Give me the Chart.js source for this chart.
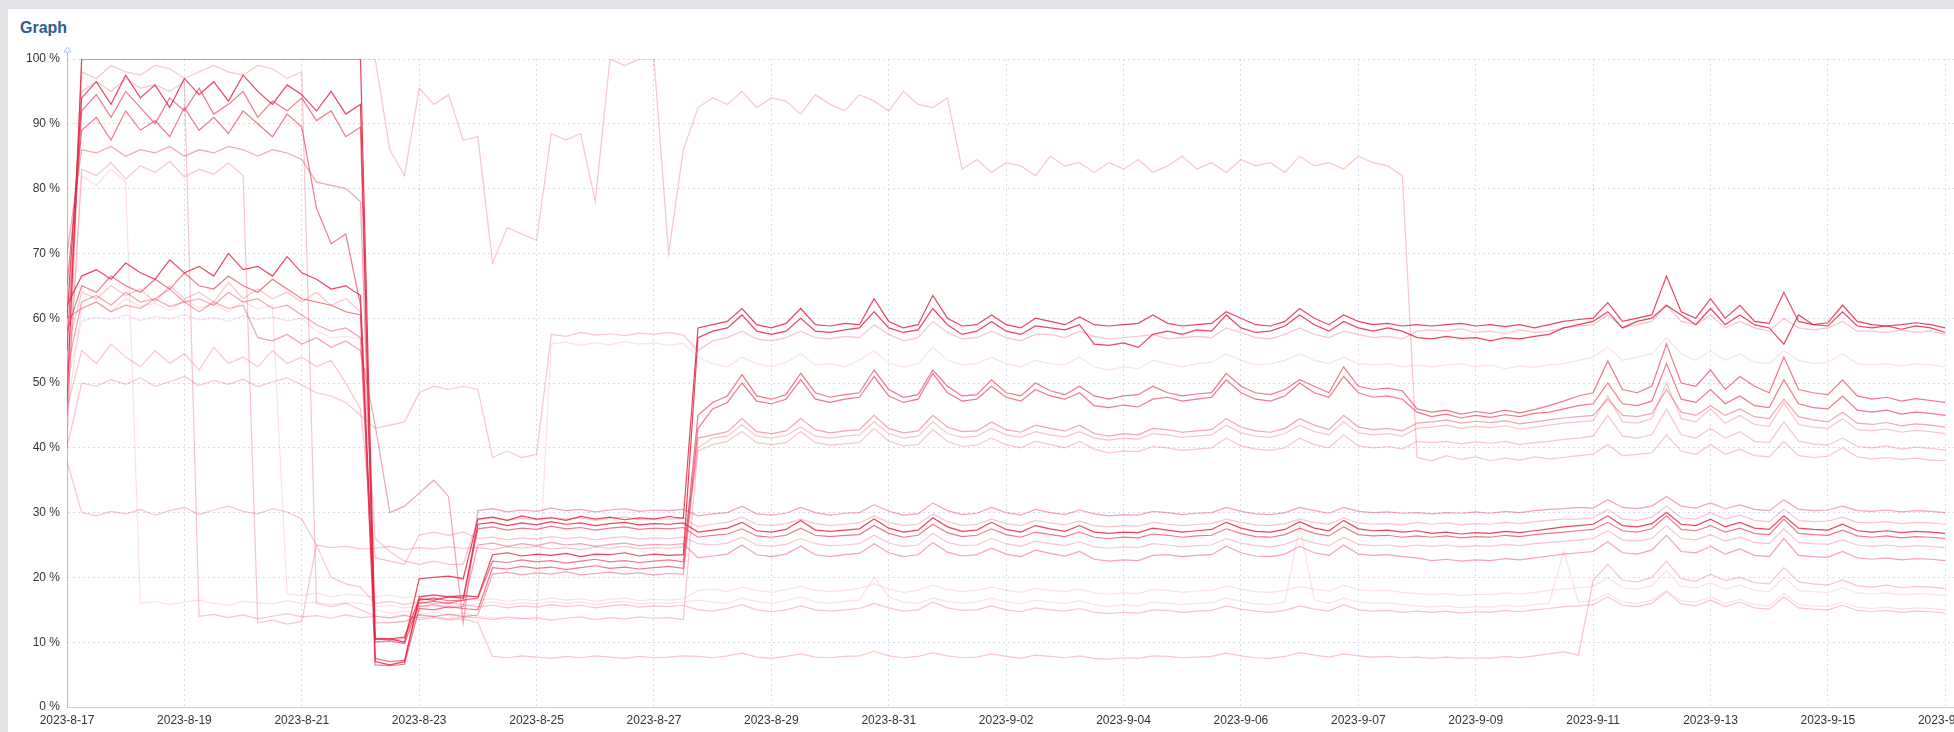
<!DOCTYPE html>
<html>
<head>
<meta charset="utf-8">
<script src="https://cdn.jsdelivr.net/npm/chart.js@4.4.0/dist/chart.umd.min.js"></script>
<style>
  html, body { margin: 0; padding: 0; overflow: hidden; width: 1954px; height: 732px; background: #e1e3e7; }
  .panel { position: absolute; left: 8px; top: 8px; width: 2100px; height: 740px; background: #fff; border-top: 1px solid #e2dcef; }
  .title { position: absolute; left: 20px; top: 20px; font: bold 16px Arial, "Liberation Sans", sans-serif; line-height: 16px; color: #2b5e8c; }
  .wrap { position: absolute; left: 0; top: 0; width: 2010px; height: 732px; }
</style>
</head>
<body>
<div class="panel"></div>
<div class="title">Graph</div>
<div class="wrap"><canvas id="graph" width="2010" height="732"></canvas></div>
<script>
// --- tick labels ---
const xTickLabels = ['2023-8-17', '2023-8-19', '2023-8-21', '2023-8-23', '2023-8-25', '2023-8-27',
  '2023-8-29', '2023-8-31', '2023-9-02', '2023-9-04', '2023-9-06', '2023-9-07', '2023-9-09',
  '2023-9-11', '2023-9-13', '2023-9-15', '2023-9-17'];
const yTickLabels = ['0 %', '10 %', '20 %', '30 %', '40 %', '50 %', '60 %', '70 %', '80 %', '90 %', '100 %'];

// samples every 6 hours, counted in days from 2023-8-17 00:00
const days = Array.from({ length: 129 }, (_, i) => i / 4);

// --- series values (%) ---
const s01 = [47,100,100,100,100,100,100,100,100,100,100,100,100,100,100,100,100,100,100,100,100,
  10.5,10.5,10,19.8,20,20.2,19.8,
  29,29.3,28.8,29.5,29,29.2,28.8,29.4,29,29.3,28.9,29.2,29,29.4,29.1,
  58.5,59,59.5,61.5,59,58.5,59.2,61.5,59,58.8, 59.2,59,63,59.5,58.5,59,63.5,60,58.8,59,
  60.5,59,58.5,60,59.5,59,60.2,59,58.8,59, 59.2,60.5,59.2,58.8,59,59.2,61,60,59,58.8,
  59.5,61.5,60,59,60.5,59.5,59,59.2,58.8,59, 58.8,59,59.2,58.8,59,58.7,59,58.5,59,59.5,
  59.8,60,62.4,59.5,60,60.5,66.5,61,60,63, 60,62,59.5,59.2,64,59.5,59,59.3,62,59.5,
  59,58.8,59,59.3,59,58.5];
const s02 = [60,94,96.5,93,97.5,94,96,92.5,97,94.5,96.5,93.5,97.5,95,93,96,94.5,92,95,91.5,93,
  7,6.5,7,17,17.3,17,17.2,
  17,23.5,23.8,23.3,23.6,23.4,23.7,23.2,23.6,23.5,23.8,23.3,23.6,23.4,23.5,
  57,58,58.5,60.5,58,57.5,58,60,58,57.8, 58.2,58.5,61,58.5,57.8,58.2,61.5,59,57.5,58,
  59.5,58,57.5,58.8,58.5,58.2,59,56,55.8,56.2, 55.5,57.5,58,57.5,58.2,58,60.5,58.5,57.8,58,
  58.8,60.5,59,58,59.5,58.5,58,58.5,58,57, 56.8,57.2,56.9,57,56.5,57,56.8,57.2,57.5,58.5,
  59,59.5,61,58.5,59.5,60,62,60.5,59,61.5, 59,60.5,59,58.5,56,60.5,59,58.8,61,58.8,
  58.5,58.8,58.3,58.8,58.5,57.8];
const s03 = [55,92,94.5,91,95,92.5,90,94,92,95.5,91.5,93,95,91,93.5,92,94,90.5,92,88,89.5,
  7.5,7,7.2,16.5,16.8,16.4,16.5,
  16.8,22.5,22.3,22.7,22.4,22.6,22.2,22.5,22.8,22.4,22.6,22.3,22.5,22.7,22.4,
  45,47,48,51.3,48,47.5,48.2,51.5,48.5,47.8, 48.2,48.5,52,49,47.8,48.2,52,49.5,48,48.2,
  50.5,48.5,48,50,48.8,48.2,49.5,48,47.5,48, 48.2,49.5,48.5,48,48.3,48.5,51.5,49.5,48.5,48.2,
  49,50.5,49.5,48.5,52.5,49.5,49,49.2,48.8,46, 45.5,45.8,45.2,45.6,45.3,45.8,45.4,45.9,46.5,47.2,
  48,48.5,53.4,49,48.5,49.5,56,50,49.5,52, 49,51,49.5,48.5,54,49,48.5,48.2,50.5,48,
  47.5,47.8,47.2,47.6,47.3,47];
const s04 = [65,89,91,87.5,92,89,90.5,88,92.5,89,91,88.5,92,90,88,91.5,89.5,77,71.5,73,62,
  6.5,6.4,6.6,15.2,15,15.5,15.2,
  15,21.5,21.3,21.7,21.4,21.6,21.2,21.5,21.8,21.4,21.6,21.3,21.5,21.7,21.4,
  43,46,47,50,47.2,46.8,47.5,50.5,47.5,47, 47.5,47.8,51,48,47,47.5,51.5,48.5,47.2,47.5,
  49.5,47.8,47.2,49,48,47.5,48.5,46.5,46.2,46.6, 46.3,47.5,47.8,47.2,47.5,47.8,50.5,48.5,47.5,47.2,
  48,50,48.5,47.8,51,48.5,47.8,48,47.5,45.5, 44.8,45.2,44.6,45,44.7,45.1,44.8,45.3,45.5,46,
  46.5,46.8,50,46.8,46.5,47.2,53,47.5,47,49, 46.8,48,46.5,46.2,50.5,46.8,46.2,46,48,45.8,
  45.5,45.8,45.2,45.5,45.3,45];
const s05 = [70,86,85.5,86.5,85,86,85.5,86.5,85,86,85.5,86.5,86,85,86,85.5,84.5,81,80.5,80,78,
  13,13,13.2,14.2,14,14.3,14,
  14.2,20.5,20.8,20.4,20.7,20.5,20.9,20.4,20.6,20.8,20.5,20.7,20.4,20.6,20.5,
  41.5,42,42.5,44.5,42.5,42.2,42.6,44.5,42.8,42.3, 42.6,42.8,45,43,42.3,42.6,45,43.2,42.5,42.6,
  44,42.8,42.4,43.5,43,42.6,43.5,42.2,41.8,42.2, 42,43,42.8,42.4,42.6,42.8,44.5,43.2,42.6,42.4,
  43,44.5,43.5,42.8,45,43.2,42.8,43,42.6,43.8, 44,44.3,43.8,44.1,43.9,44.2,43.7,44,44.3,44.6,
  44.8,45,47.5,45,44.8,45.3,49,45.5,45,46.5, 45,46,44.8,44.5,47.5,44.8,44.3,44,45.5,43.8,
  43.6,43.9,43.4,43.7,43.5,43.2];
const s06 = [62,66.5,67.5,66,68.5,67,66,69,67,68,66.5,70,67.5,68,66.5,69.5,67,66,64.5,65,63.5,
  10.5,10.5,10.8,16.7,16.5,17,16.8,
  28.2,28.5,28,28.4,28.1,28.6,28.2,28.4,28,28.3,28.5,28.1,28.3,28.2,28.4,
  27,27.3,27.6,28.5,27.2,27,27.4,28.8,27.3,27.1, 27.3,27.5,29,27.6,27,27.3,29.2,27.8,27.1,27.3,
  28.5,27.4,27,28,27.5,27.1,28,27,26.8,27, 26.9,27.6,27.3,27,27.2,27.4,28.5,27.6,27.1,27,
  27.4,28.6,27.6,27.2,28.8,27.5,27.2,27.3,27,27.2, 26.8,27,26.7,26.9,26.8,27.1,26.9,27.2,27.5,27.8,
  28,28.2,29.5,28,27.8,28.3,30,28.2,28,29, 27.8,28.5,27.6,27.4,29.5,27.6,27.4,27.3,28.2,27.2,
  27,27.2,26.9,27.1,27,26.8];
const s07 = [58,65,64,66.5,65,64,66,64.5,67,65,64.5,66.5,65,64,66,64.5,63,62.5,62,61,60.5,
  10,10.2,9.8,16,16.3,16,16.5,
  27.5,27.8,27.3,27.6,27.4,27.9,27.5,27.7,27.3,27.6,27.8,27.4,27.6,27.5,27.7,
  26.2,26.5,26.7,27.5,26.4,26.2,26.5,27.6,26.5,26.3, 26.5,26.6,28,26.8,26.2,26.5,28.2,26.9,26.3,26.5,
  27.5,26.6,26.2,27,26.6,26.3,27,26.2,26,26.2, 26.1,26.7,26.5,26.2,26.4,26.5,27.5,26.8,26.3,26.2,
  26.6,27.6,26.8,26.4,27.8,26.6,26.4,26.5,26.2,26.4, 26.2,26.4,26.1,26.3,26.2,26.5,26.3,26.6,26.8,27,
  27.2,27.4,28.5,27.2,27,27.5,29.5,27.4,27.2,28, 27,27.6,26.8,26.6,29,26.8,26.6,26.5,27.3,26.4,
  26.2,26.4,26.1,26.3,26.2,26];
const s08 = [52,62.5,63.5,62,64,62.5,63,64.5,62.5,63,62,64,62.5,63,61.5,62,60.5,59,58,58.5,57,
  10.5,10.3,10.6,15.5,15.8,15.3,15.5,
  25,25.3,24.8,25.2,24.9,25.4,25,25.2,24.8,25.1,25.3,24.9,25.1,25,25.2,
  23,23.3,23.6,25,23.5,23.2,23.6,24.8,23.5,23.2, 23.5,23.7,25.2,23.8,23.2,23.5,25.4,23.9,23.3,23.5,
  24.5,23.6,23.2,24.2,23.7,23.3,24,22.8,22.5,22.7, 22.6,23.4,23.5,23.2,23.4,23.5,24.8,23.8,23.3,23.2,
  23.6,24.8,23.8,23.4,25,23.6,23.4,23.5,23.2,23, 22.6,22.8,22.5,22.7,22.6,22.9,22.7,23,23.3,23.6,
  23.8,24,25.5,23.8,23.6,24.2,26.5,24,23.8,24.8, 23.6,24.4,23.4,23.2,26,23.4,23.2,23.1,24,23,
  22.8,23,22.7,22.9,22.8,22.6];
const s09 = [60,61.5,62.5,61,62,61.5,63,61.8,62.5,61,62.5,61.5,62,57,56.5,57.5,56,57,55.5,56.5,55,
  43.5,30,31,33,35,32.5,13,
  30.3,30.6,30.1,30.4,30.2,30.7,30.3,30.5,30.1,30.4,30.6,30.2,30.4,30.3,30.5,
  29.5,29.8,30,31,29.8,29.6,29.9,30.8,30,29.6, 29.9,30,31.2,30.2,29.6,29.8,31.5,30.3,29.7,29.9,
  30.8,30,29.6,30.5,30,29.7,30.4,29.8,29.5,29.7, 29.6,30.2,30,29.7,29.9,30,30.8,30.2,29.8,29.7,
  30,30.8,30.3,29.9,30.8,30.2,30,30.1,29.9,30, 29.8,30,29.9,30.1,29.9,30.2,30,30.3,30.5,30.6,
  30.8,30.7,32,30.8,30.6,31,32.5,31,30.7,31.5, 30.6,31.2,30.5,30.3,32,30.5,30.3,30.4,31,30.3,
  30.2,30.4,30.1,30.3,30.2,30];
const s10 = [55,64,63,65,63.5,64.5,62.5,65,63,64,62.5,65.5,63,64.5,63,64,62.5,64,62,63,61,
  26,24,22.5,22,22.5,22,22,
  29,29.2,28.8,29.1,28.9,29.3,29,29.2,28.8,29.1,29.3,28.9,29.1,29,29.2,
  27.8,28.2,28.5,29.3,28.2,28,28.3,29,28.3,28, 28.2,28.4,29.5,28.5,28,28.2,29.8,28.6,28,28.2,
  29,28.3,28,28.8,28.4,28.1,28.7,28,27.8,28, 27.9,28.5,28.2,28,28.2,28.3,29,28.5,28.1,28,
  28.3,29,28.5,28.2,29.2,28.4,28.2,28.3,28.1,28.5, 28.2,28.4,28.1,28.3,28.2,28.5,28.3,28.6,28.8,29,
  29,29.2,30.5,29,28.8,29.3,31,29.2,29,30, 29,29.6,28.8,28.6,30.5,28.8,28.6,28.7,29.3,28.5,
  28.4,28.6,28.3,28.5,28.4,28.2];
const s11 = [46,55,53,56,54,52.5,55,53,54.5,52,55.5,53,54,52.5,55,53,54,52.5,53.5,50,46,
  23,22.5,22,26.5,27,26.5,27,
  26,26.2,25.8,26.1,25.9,26.3,26,26.2,25.8,26.1,26.3,25.9,26.1,26,26.2,
  25.2,25,25.3,26.2,25,24.8,25.1,26,25.2,24.9, 25,25.2,26.5,25.3,24.8,25,26.8,25.4,24.9,25,
  26,25.2,24.8,25.6,25.2,24.9,25.5,24.7,24.5,24.7, 24.6,25.2,25,24.7,24.9,25,26,25.3,24.9,24.7,
  25.1,26,25.3,24.9,26.2,25.1,24.9,25,24.7,25, 24.8,25,24.7,24.9,24.8,25.1,24.9,25.2,25.4,25.6,
  25.8,26,27.2,25.8,25.6,26,28,26,25.8,26.6, 25.6,26.2,25.4,25.2,27.5,25.4,25.2,25.1,25.8,25,
  24.8,25,24.7,24.9,24.8,24.6];
const s12 = [40,50,49.5,50.5,49.8,50.8,49.5,50.2,51,49.6,50.4,49.8,50.6,49.4,50.2,50.8,49.7,48.5,48,47,45,
  43,43.5,44,48.5,49.5,49,49.5,
  49,38.5,39.5,38.5,39,57.5,57.2,57.8,57.4,57.6,57.3,57.7,57.5,57.8,57.4,
  55,56.5,57,58,56.8,56.5,57,58,57,56.8, 57.2,57,59,57.5,56.5,57,59.5,57.8,56.8,57,
  58,57,56.5,57.5,57.5,57,58,57.2,56.8,57, 57.2,57.5,56.8,57,57.2,57,58.5,57.8,57,56.8,
  57.5,58.5,57.5,57,58,57.5,57,57.2,56.8,58, 58.2,58,58.4,57.8,58,57.6,58.2,57.8,58,58.5,
  58.8,59,60.5,58.5,59,59.5,62,59.5,59,60.5, 58.5,59.5,58.5,58,60,58.5,58.2,58.5,59.5,58,
  58,57.8,58.2,57.8,58,57.5];
const s13 = [50,59.5,60.2,59.8,60.5,59.6,60.3,59.9,60.6,59.7,60.1,59.5,60.4,59.8,60.2,59.6,60,58,57,57.2,56.8,
  15,14.5,14.8,14.3,14.6,14.2,14.5,
  14,13.8,13.5,13.7,13.4,56,56.3,55.8,56.2,55.9,56.4,56,56.2,55.8,56.1,
  54,53,52.5,54,53,52.5,53.2,54.5,52.8,53, 52.5,53.5,55,53,52.5,53,55.5,53.5,52.8,53,
  54,53,52.5,53.5,53,52.8,54,52.5,52,52.5, 52.2,53.5,53,52.5,53,53.2,54.5,53.5,52.8,53,
  53.5,54.5,53.5,53,54,53,52.8,53,52.5,52.8, 52.5,52.8,53,52.5,52.8,52.2,52.6,52.4,52.8,53,
  53.5,54,55.5,53.5,54,54.5,57,54.5,53.5,55, 53.5,54.5,53.2,53,55,53.5,53,53.2,54.5,53,
  52.8,53,52.6,53,52.8,52.5];
const s14 = [40,100,100,100,100,100,100,100,100,100,100,100,100,100,100,100,100,100,100,100,100,
  100,86,82,95.5,93,94.5,87.5,
  88,68.5,74,73,72,88.5,87.5,88.5,78,100,99,100,100,70,86,
  92.5,94,93,95,92.5,94,93.5,91.5,94.5,93, 92,94.5,93.5,92,95,93,92.5,94,
  83,84.5,82.5,84,83.5,82,85,83.5,84,82.5, 84,83,84.5,82.5,83.5,85,83,84,82.5,84.5,
  83.5,84,82.5,85,83.5,84,83,85,84,83.5,82,
  38.5,38,38.8,38.2,38.6,38,38.4,38.1,38.6,38.3, 38.5,38.8,39,40.5,38.8,39,39.2,42,39.5,39,
  40.5,39,39.8,38.8,38.6,41,38.8,38.5,38.7,40, 38.6,38.3,38.5,38.2,38.4,38.1,38];
const s15 = [45,83,82,84,81.5,83.5,82.5,84.2,81.8,83,82.2,84,82,13,13.4,12.8,13.2,25,24.6,24.8,24.4,
  24.5,24.8,24.3,24.6,24.4,24.7,24.5,
  24.6,24.3,24.7,24.5,24.8,24.4,24.6,24.3,24.7,24.5,24.8,24.4,24.6,24.5,24.7,
  39.5,40.5,41,42.5,40.8,40.5,40.8,42.5,40.8,40.4, 40.6,40.8,43,41,40.3,40.5,42.8,41,40.2,40.4,
  41.5,40.5,40,41,40.5,40,41,39.8,39.2,39.5, 39.4,40.2,40,39.6,39.8,40,41.5,40.3,39.8,39.6,
  40,41.5,40.5,40,42,40.3,40,40.2,39.8,41, 40.8,41,40.6,40.9,40.7,41,40.5,40.8,41,41.3,
  41.5,41.8,45,41.8,41.5,42,46,42,41.5,43, 41.5,42.5,41,40.8,44,41,40.6,40.4,41.5,40.2,
  40,40.3,39.8,40.1,39.9,39.6];
const s16 = [45,82,80.5,83,81,16,16.3,15.8,16.2,16.5,16,15.7,16.3,16.1,15.9,16.4,16,16.2,15.8,16.1,16,
  15.5,15.7,15.3,15.6,15.4,15.8,15.5,
  16,16.2,15.8,16.1,15.9,16.3,16,16.2,15.8,16.1,16.3,15.9,16.1,16,16.2,
  16.5,16.2,16,16.8,16.3,16,16.4,17,16.2,16, 16.3,16.5,20,17,16.2,16,16.8,16.3,16,16.2,
  16.8,16.2,15.9,16.5,16.2,16,16.4,15.8,15.5,15.8, 15.6,16.2,16,15.8,16,16.1,16.8,16.3,15.9,15.8,
  16.2,28,16.5,16,16.8,16.2,16,16.1,15.8,15.6, 15.4,15.6,15.3,15.5,15.4,15.7,15.5,15.8,16,24,
  16.2,16.4,17.5,16.2,16,16.5,18,16.4,16.2,17, 16,16.6,15.8,15.6,17.5,15.8,15.6,15.5,16.2,15.4,
  15.2,15.4,15.1,15.3,15.2,15];
const s17 = [55,98,97,99,98,97.5,99,98.5,97,98,99,98,97.5,99,98.5,97,98,16,15.5,16,15,
  14,13.8,14.2,13.5,13.8,13.4,13.6,
  13,7.8,7.6,7.9,7.7,7.5,7.8,7.6,7.9,7.7,7.5,7.8,7.6,7.7,7.9,
  7.8,7.6,7.9,8.3,7.7,7.5,7.8,8.2,7.7,7.6, 7.8,7.9,8.6,7.9,7.6,7.8,8.4,7.9,7.6,7.7,
  8.2,7.8,7.5,8,7.8,7.6,7.9,7.5,7.4,7.6, 7.5,7.9,7.8,7.6,7.7,7.8,8.3,7.9,7.6,7.5,
  7.8,8.4,8,7.7,8.2,7.9,7.7,7.8,7.6,7.7, 7.5,7.7,7.5,7.6,7.5,7.8,7.6,7.9,8.2,8.5,
  8,19.5,22,19.6,19.3,20,22.5,19.8,19.4,20.5, 19.5,20,19.2,19,21.5,19.3,19,18.8,19.6,18.7,
  18.5,18.8,18.4,18.6,18.5,18.3];
const s18 = [38,30,29.5,30.2,29.8,30.5,29.6,30.3,30.8,29.7,30.4,31,30.2,29.8,30.6,30.1,29,25,20,19,18.5,
  16,16.3,15.8,16.2,15.9,16.1,15.8,
  15.5,15.7,15.3,15.6,15.4,15.8,15.5,15.7,15.3,15.6,15.8,15.4,15.6,15.5,15.7,
  15,14.8,15.2,15.8,15,14.7,15,15.6,15,14.8, 15,15.2,16,15.3,14.8,15,16.2,15.3,14.9,15,
  15.6,15,14.7,15.3,15,14.8,15.2,14.6,14.4,14.6, 14.5,15,14.9,14.6,14.8,14.9,15.6,15.1,14.8,14.6,
  14.9,15.6,15.1,14.8,15.8,15,14.8,14.9,14.6,14.8, 14.6,14.8,14.5,14.7,14.6,14.9,14.7,15,15.2,15.5,
  15.6,15.8,17,15.7,15.5,16,17.8,15.9,15.6,16.5, 15.5,16.2,15.3,15.1,17,15.3,15.1,15,15.7,14.9,
  14.7,14.9,14.6,14.8,14.7,14.5];
const s19 = [50,95,96.5,95,97,95.5,96,95,96.5,14,14.3,13.8,14.2,13.6,14,14.4,13.9,14.1,13.7,14.2,13.8,
  14,13.7,14.1,13.8,14,13.6,13.9,
  13.8,13.5,13.9,13.6,13.8,13.4,13.7,13.9,13.5,13.8,13.6,13.9,13.7,13.8,13.5,
  40,41.5,41.8,43.5,41.8,41.5,41.9,43.2,41.8,41.5, 41.8,42,44,42.2,41.5,41.8,44,42.2,41.6,41.8,
  43,42,41.6,42.5,42,41.7,42.5,41.5,41.2,41.5, 41.3,42.2,42,41.6,41.8,42,43.5,42.3,41.8,41.6,
  42.2,43.5,42.5,42,44,42.3,42,42.2,41.8,43, 43.2,43.5,43,43.3,43.1,43.4,42.9,43.2,43.5,43.8,
  44,44.2,48,44,43.8,44.5,50,44.5,44,46, 43.8,45,43.6,43.3,47,43.6,43.2,43,44.5,42.8,
  42.6,42.9,42.4,42.7,42.5,42.2];
const s20 = [45,61.5,62.5,61,63,61.8,62.3,61.2,62.8,61.6,62.2,61,62.6,61.4,62,17.5,17.2,17.6,17,17.4,17.2,
  17,17.3,16.8,17.1,16.9,17.2,17,
  16.5,16.7,16.3,16.6,16.4,16.8,16.5,16.7,16.3,16.6,16.8,16.4,16.6,16.5,16.7,
  18,18.2,17.8,18.5,18,17.7,18.1,18.6,18,17.8, 18,18.3,19,18.2,17.7,18,18.8,18.1,17.8,18,
  18.5,18,17.7,18.3,18,17.8,18.2,17.6,17.4,17.6, 17.5,18.1,18,17.7,17.9,18,18.7,18.2,17.8,17.7,
  18,18.6,18.2,17.9,18.8,18.1,17.9,18,17.7,17.5, 17.3,17.5,17.2,17.4,17.3,17.6,17.4,17.7,18,18.2,
  18.4,18.6,20,18.4,18.2,18.7,21,18.6,18.4,19.2, 18.2,18.8,18,17.8,20,18,17.8,17.7,18.4,17.6,
  17.4,17.6,17.3,17.5,17.4,17.2];

// --- shades of the red used by the series (dark ones drawn on top) ---
const tones = {
    dark: 'rgba(228,36,66,0.85)',
    red: 'rgba(232,48,78,0.66)',
    mid: 'rgba(235,62,92,0.48)',
    light: 'rgba(238,82,112,0.34)',
    faint: 'rgba(240,100,130,0.2)'
};

const seriesList = [
    [s01, 'dark'], [s02, 'dark'], [s06, 'dark'], [s03, 'red'], [s04, 'red'], [s07, 'red'],
    [s05, 'mid'], [s08, 'mid'], [s09, 'mid'], [s11, 'light'], [s17, 'light'], [s14, 'light'],
    [s10, 'light'], [s12, 'light'], [s15, 'light'], [s19, 'light'], [s18, 'light'],
    [s13, 'faint'], [s16, 'faint'], [s20, 'faint']
];

// little open arrow on top of the value axis
const axisArrow = {
    id: 'axisArrow',
    afterDraw(chart) {
        const { ctx, chartArea } = chart;
        const x = Math.round(chartArea.left) + 0.5;
        const y = chartArea.top;
        ctx.save();
        ctx.strokeStyle = '#a9c0e6';
        ctx.lineWidth = 1;
        ctx.beginPath();
        ctx.moveTo(x, y);
        ctx.lineTo(x, y - 7);
        ctx.stroke();
        ctx.beginPath();
        ctx.moveTo(x - 3.5, y - 7);
        ctx.lineTo(x, y - 12);
        ctx.lineTo(x + 3.5, y - 7);
        ctx.closePath();
        ctx.stroke();
        ctx.restore();
    }
};

const tickFont = { family: 'Arial, "Liberation Sans", sans-serif', size: 12 };
const gridColor = 'rgba(165,175,220,0.45)';

new Chart(document.getElementById('graph').getContext('2d'), {
    type: 'line',
    data: {
        datasets: seriesList.map(([values, tone], i) => ({
            label: 'series ' + (i + 1),
            data: values.map((v, j) => ({ x: days[j], y: v })),
            borderColor: tones[tone],
            borderWidth: 1.2,
            pointRadius: 0,
            tension: 0,
            fill: false
        }))
    },
    options: {
        responsive: false,
        animation: false,
        events: [],
        layout: { padding: { left: 0, top: 59, right: 6, bottom: 0 } },
        plugins: {
            legend: { display: false },
            tooltip: { enabled: false }
        },
        scales: {
            x: {
                type: 'linear',
                min: 0,
                max: 33,
                afterFit: (scale) => { scale.height = 25; },
                grid: { color: gridColor, drawTicks: false },
                border: { color: '#c4cde9', dash: [2, 3] },
                ticks: {
                    stepSize: 2,
                    padding: 6,
                    color: '#333',
                    font: tickFont,
                    maxRotation: 0,
                    autoSkip: false,
                    callback: (value) => xTickLabels[value / 2] ?? ''
                }
            },
            y: {
                min: 0,
                max: 100,
                afterFit: (scale) => { scale.width = 67; },
                grid: { color: gridColor, drawTicks: false },
                border: { color: '#a9c0e6', dash: [2, 3] },
                ticks: {
                    stepSize: 10,
                    padding: 7,
                    color: '#333',
                    font: tickFont,
                    callback: (value) => yTickLabels[value / 10]
                }
            }
        }
    },
    plugins: [axisArrow]
});
</script>
</body>
</html>
